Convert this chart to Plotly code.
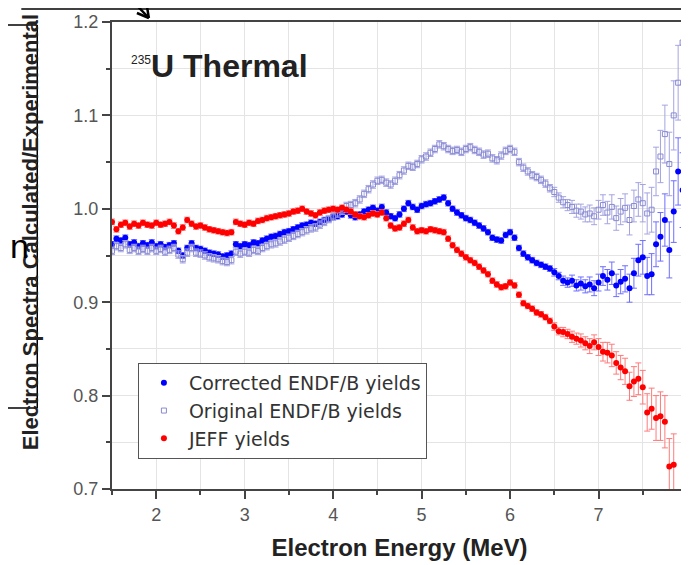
import plotly.graph_objects as go

# ---------------- data ----------------
energy = [
    1.50, 1.55, 1.60, 1.65, 1.70, 1.75, 1.80, 1.85, 1.90, 1.95,
    2.00, 2.05, 2.10, 2.15, 2.20, 2.25, 2.30, 2.35, 2.40, 2.45,
    2.50, 2.55, 2.60, 2.65, 2.70, 2.75, 2.80, 2.85, 2.90, 2.95,
    3.00, 3.05, 3.10, 3.15, 3.20, 3.25, 3.30, 3.35, 3.40, 3.45,
    3.50, 3.55, 3.60, 3.65, 3.70, 3.75, 3.80, 3.85, 3.90, 3.95,
    4.00, 4.05, 4.10, 4.15, 4.20, 4.25, 4.30, 4.35, 4.40, 4.45,
    4.50, 4.55, 4.60, 4.65, 4.70, 4.75, 4.80, 4.85, 4.90, 4.95,
    5.00, 5.05, 5.10, 5.15, 5.20, 5.25, 5.30, 5.35, 5.40, 5.45,
    5.50, 5.55, 5.60, 5.65, 5.70, 5.75, 5.80, 5.85, 5.90, 5.95,
    6.00, 6.05, 6.10, 6.15, 6.20, 6.25, 6.30, 6.35, 6.40, 6.45,
    6.50, 6.55, 6.60, 6.65, 6.70, 6.75, 6.80, 6.85, 6.90, 6.95,
    7.00, 7.05, 7.10, 7.15, 7.20, 7.25, 7.30, 7.35, 7.40, 7.45,
    7.50, 7.55, 7.60, 7.65, 7.70, 7.75, 7.80, 7.85, 7.90, 7.95,
]

corrected_endfb = [
    0.962, 0.968, 0.966, 0.969, 0.962, 0.964, 0.960, 0.963, 0.961, 0.964,
    0.960, 0.962, 0.959, 0.961, 0.963, 0.955, 0.950, 0.958, 0.963, 0.958,
    0.957, 0.955, 0.953, 0.952, 0.951, 0.949, 0.950, 0.952, 0.962, 0.960,
    0.962, 0.961, 0.964, 0.963, 0.966, 0.968, 0.970, 0.971, 0.973, 0.975,
    0.976, 0.978, 0.980, 0.982, 0.983, 0.985, 0.984, 0.986, 0.988, 0.989,
    0.991, 0.992, 0.994, 0.997, 0.993, 0.991, 0.994, 0.997, 0.999, 1.001,
    0.998, 1.002, 0.996, 0.992, 0.990, 0.994, 1.000, 1.006, 1.002, 0.999,
    1.003, 1.005, 1.006, 1.008, 1.010, 1.012, 1.006, 1.000, 0.996, 0.993,
    0.990, 0.988, 0.985, 0.982, 0.979, 0.975, 0.969, 0.967, 0.966, 0.972,
    0.975, 0.969, 0.958, 0.952, 0.948, 0.945, 0.942, 0.940, 0.938, 0.936,
    0.932, 0.928, 0.923, 0.921, 0.923, 0.918, 0.920, 0.917, 0.919, 0.915,
    0.921, 0.928, 0.924, 0.931, 0.918, 0.922, 0.925, 0.915, 0.931, 0.945,
    0.948, 0.928, 0.930, 0.962, 0.970, 0.988, 0.956, 0.997, 1.040, 1.020,
]
corrected_err = [0.003] * 100 + [
    0.004, 0.004, 0.005, 0.005, 0.006, 0.006, 0.007, 0.007, 0.008, 0.008,
    0.009, 0.010, 0.011, 0.012, 0.012, 0.013, 0.014, 0.015, 0.016, 0.017,
    0.018, 0.020, 0.022, 0.024, 0.026, 0.028, 0.030, 0.033, 0.036, 0.040,
]

original_endfb = [
    0.955, 0.960, 0.958, 0.962, 0.956, 0.958, 0.955, 0.957, 0.955, 0.958,
    0.955, 0.957, 0.954, 0.956, 0.958, 0.951, 0.946, 0.953, 0.958, 0.953,
    0.952, 0.950, 0.948, 0.947, 0.946, 0.944, 0.943, 0.945, 0.954, 0.952,
    0.954, 0.953, 0.956, 0.955, 0.958, 0.960, 0.962, 0.963, 0.965, 0.967,
    0.969, 0.971, 0.973, 0.975, 0.977, 0.979, 0.980, 0.983, 0.986, 0.989,
    0.992, 0.995, 0.998, 1.003, 1.004, 1.006, 1.010, 1.016, 1.021, 1.026,
    1.030, 1.031, 1.028, 1.026, 1.030, 1.036, 1.041, 1.046, 1.045, 1.048,
    1.053, 1.056, 1.060, 1.064, 1.069, 1.067, 1.064, 1.062, 1.063, 1.061,
    1.064, 1.066, 1.063, 1.061, 1.058, 1.059, 1.054, 1.052, 1.057, 1.062,
    1.064, 1.061, 1.050, 1.044, 1.040, 1.036, 1.034, 1.031, 1.027, 1.022,
    1.018, 1.012, 1.007, 1.004, 1.002, 0.998, 0.997, 0.994, 0.995, 0.992,
    0.999, 1.004, 0.996, 1.002, 0.990, 0.997, 1.001, 0.988, 1.003, 1.010,
    1.006, 0.995, 0.999, 1.040, 1.056, 1.080, 1.048, 1.100, 1.135, 1.178,
]
original_err = [0.004] * 100 + [
    0.005, 0.005, 0.006, 0.006, 0.007, 0.007, 0.008, 0.008, 0.009, 0.009,
    0.010, 0.011, 0.012, 0.013, 0.013, 0.014, 0.015, 0.016, 0.017, 0.018,
    0.020, 0.022, 0.024, 0.026, 0.028, 0.031, 0.034, 0.037, 0.040, 0.045,
]

jeff = [
    0.986, 0.978, 0.983, 0.985, 0.981, 0.984, 0.982, 0.985, 0.983, 0.982,
    0.985, 0.983, 0.984, 0.986, 0.982, 0.976, 0.980, 0.988, 0.984, 0.981,
    0.982, 0.980, 0.978, 0.977, 0.976, 0.975, 0.974, 0.975, 0.986, 0.984,
    0.983, 0.985, 0.984, 0.987, 0.988, 0.990, 0.991, 0.992, 0.993, 0.994,
    0.995, 0.997, 0.998, 1.000, 0.997, 0.995, 0.993, 0.996, 0.998, 0.999,
    1.000, 0.999, 1.001, 0.999, 0.997, 0.994, 0.992, 0.991, 0.993, 0.995,
    0.994, 0.996, 0.990, 0.982, 0.979, 0.980, 0.984, 0.988, 0.980, 0.976,
    0.977, 0.976, 0.978, 0.977, 0.976, 0.975, 0.968, 0.961, 0.956, 0.952,
    0.948, 0.945, 0.942, 0.938, 0.934, 0.930, 0.923, 0.919, 0.916, 0.917,
    0.921, 0.918, 0.908, 0.899, 0.896, 0.893, 0.889, 0.887, 0.884, 0.880,
    0.874, 0.869, 0.868, 0.866, 0.863, 0.861, 0.859, 0.856, 0.853, 0.857,
    0.852, 0.847, 0.846, 0.843, 0.835, 0.830, 0.826, 0.810, 0.815, 0.818,
    0.809, 0.782, 0.786, 0.776, 0.778, 0.772, 0.724, 0.726,
]
jeff_err = [0.003] * 100 + [
    0.004, 0.004, 0.005, 0.005, 0.006, 0.006, 0.007, 0.007, 0.008, 0.008,
    0.009, 0.010, 0.011, 0.012, 0.012, 0.013, 0.014, 0.015, 0.016, 0.017,
    0.018, 0.020, 0.022, 0.024, 0.026, 0.028, 0.030, 0.033,
]

x_range = [1.5, 8.0]
y_range = [0.7, 1.2]

# ---------------- layout geometry ----------------
# page body has an 8px default margin, so the figure is made smaller and
# margins are reduced by that amount to land the plot area where it belongs
OFF = 8
W, H = 689 - OFF, 565 - OFF
ML, MR, MT, MB = 112 - OFF, 0, 22 - OFF, 76
PW, PH = W - ML - MR, H - MT - MB


def px(x):  # page pixel -> paper x
    return (x - OFF - ML) / PW


def py(y):  # page pixel -> paper y
    return (OFF + MT + PH - y) / PH


FONT = "Liberation Sans, Arial, sans-serif"
AX = "#444"
GRID = "#e4e4e4"

fig = go.Figure()

fig.add_trace(go.Scatter(
    x=energy, y=corrected_endfb, mode="markers", name="Corrected ENDF/B yields",
    marker=dict(symbol="circle", size=6, color="#0000ff"),
    error_y=dict(type="data", array=corrected_err, color="#6f6fff", thickness=1, width=3),
))
fig.add_trace(go.Scatter(
    x=energy, y=original_endfb, mode="markers", name="Original ENDF/B yields",
    marker=dict(symbol="square-open", size=5, color="#8a8ad2", line=dict(width=1)),
    error_y=dict(type="data", array=original_err, color="#a4a4e2", thickness=1, width=3),
))
fig.add_trace(go.Scatter(
    x=energy[:len(jeff)], y=jeff, mode="markers", name="JEFF yields",
    marker=dict(symbol="circle", size=6, color="#ff0000"),
    error_y=dict(type="data", array=jeff_err, color="#ff7a7a", thickness=1, width=3),
))

axis_common = dict(
    showline=True, linecolor=AX, linewidth=2, mirror=True,
    ticks="outside", tickcolor=AX, tickwidth=1.5, ticklen=8,
    showgrid=True, gridcolor=GRID, gridwidth=1,
    tickfont=dict(family=FONT, size=18, color="#555"),
    zeroline=False,
)

fig.update_layout(
    xaxis=dict(
        range=x_range, dtick=1, tick0=0,
        minor=dict(dtick=0.5, ticks="outside", ticklen=4, tickcolor=AX,
                   showgrid=True, gridcolor=GRID),
        title=dict(text="<b>Electron Energy (MeV)</b>",
                   font=dict(family=FONT, size=24, color="#222"), standoff=16),
        **axis_common,
    ),
    yaxis=dict(
        range=y_range, dtick=0.1, tick0=0, tickformat=".1f",
        minor=dict(dtick=0.05, ticks="outside", ticklen=4, tickcolor=AX,
                   showgrid=True, gridcolor=GRID),
        **axis_common,
    ),
)

annotations = [
    dict(text="<b>Electron Spectra Calculated/Experimental</b>", textangle=-90,
         xref="paper", yref="paper", x=px(31), y=py(232), showarrow=False,
         xanchor="center", yanchor="middle",
         font=dict(family=FONT, size=22, color="#222")),
    dict(text="<sup><span style='font-size:12px'>235</span></sup><b>U Thermal</b>",
         xref="paper", yref="paper", x=px(129), y=py(66), showarrow=False,
         xanchor="left", yanchor="middle",
         font=dict(family=FONT, size=32, color="#222")),
    # overlay artefact from the slide screenshot
    dict(text="n", xref="paper", yref="paper", x=px(OFF), y=py(246),
         xanchor="left", yanchor="middle", showarrow=False,
         font=dict(family="Liberation Sans, Arial", size=34, color="#000")),
]

line_k = dict(color="#000", width=1.5)
shapes = [
    # box edge at the top of the slide
    dict(type="line", xref="paper", yref="paper", x0=px(21), x1=px(700), y0=py(9), y1=py(9), line=line_k),
    # arrow
    dict(type="line", xref="paper", yref="paper", x0=px(128), x1=px(149), y0=py(-4), y1=py(18),
         line=dict(color="#000", width=2.5)),
    dict(type="line", xref="paper", yref="paper", x0=px(149), x1=px(137), y0=py(18), y1=py(13),
         line=dict(color="#000", width=2.5)),
    dict(type="line", xref="paper", yref="paper", x0=px(149), x1=px(147), y0=py(18), y1=py(6),
         line=dict(color="#000", width=2.5)),
    # left bracket
    dict(type="line", xref="paper", yref="paper", x0=px(0), x1=px(37), y0=py(25), y1=py(25), line=line_k),
    dict(type="line", xref="paper", yref="paper", x0=px(37), x1=px(37), y0=py(25), y1=py(408), line=line_k),
    dict(type="line", xref="paper", yref="paper", x0=px(0), x1=px(37), y0=py(408), y1=py(408), line=line_k),
]

fig.update_layout(
    width=W, height=H,
    margin=dict(l=ML, r=MR, t=MT, b=MB, pad=0),
    paper_bgcolor="white", plot_bgcolor="white",
    showlegend=True,
    legend=dict(x=px(138), y=py(363), xanchor="left", yanchor="top",
                bgcolor="white", bordercolor="#555", borderwidth=1,
                font=dict(family="DejaVu Sans, sans-serif", size=19, color="#333"),
                itemwidth=40),
    annotations=annotations,
    shapes=shapes,
)

fig.write_html("out.html")
